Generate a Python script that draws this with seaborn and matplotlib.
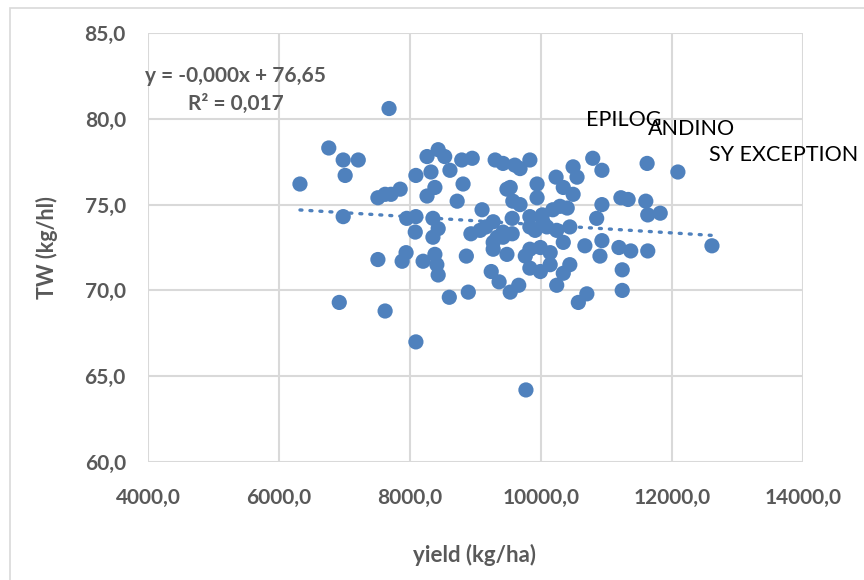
import matplotlib
matplotlib.use("Agg")
import matplotlib.pyplot as plt
from matplotlib.patches import Rectangle
from matplotlib.ticker import FuncFormatter
import seaborn as sns
import pandas as pd

# yield (kg/ha) and test weight (kg/hl)
yield_kg_ha = [
    6320, 6760, 6980, 7210, 7010, 6980, 6920, 7510, 7620, 7710, 7850, 7510,
    7620, 7940, 7880, 7680, 7950, 8090, 8080, 8090, 8090,
    8260, 8430, 8530, 8320, 8610, 8790, 8950, 8380, 8260, 8810, 8720, 8350,
    8430, 8350, 8200, 8380, 8410, 8430, 8600, 8860, 8890, 8930,
    9100, 9160, 9270, 9270, 9330, 9420, 9560, 9560, 9300, 9420, 9600, 9680,
    9830, 9530, 9480, 9570, 9680, 9940, 9940, 9830, 10020, 9830, 9910, 10090,
    10180, 10290, 10400, 9070, 9420, 10030, 10240, 10440, 9270, 9480,
    9760, 9830, 9990, 10140, 10140, 9990, 9830,
    10340, 10440, 10340, 10240, 10570, 9240, 9360, 9530, 9660, 9770,
    10230, 10340, 10490, 10490, 10550,
    10790, 10930, 11620, 12090, 11220, 11330, 11600, 11630, 11820, 10930,
    10850, 10670, 10930, 10900, 11190, 11370, 11630, 12610, 11240, 11240, 10700,
]
tw_kg_hl = [
    76.2, 78.3, 77.6, 77.6, 76.7, 74.3, 69.3, 75.4, 75.6, 75.6, 75.9, 71.8,
    68.8, 72.2, 71.7, 80.6, 74.2, 74.3, 73.4, 67.0, 76.7,
    77.8, 78.2, 77.8, 76.9, 77.0, 77.6, 77.7, 76.0, 75.5, 76.2, 75.2, 74.2,
    73.6, 73.1, 71.7, 72.1, 71.5, 70.9, 69.6, 72.0, 69.9, 73.3,
    74.7, 73.7, 74.0, 72.8, 73.1, 73.4, 74.2, 73.3, 77.6, 77.4, 77.3, 77.1,
    77.6, 76.0, 75.9, 75.2, 75.0, 76.2, 75.4, 74.3, 74.4, 73.7, 73.5, 73.7,
    74.7, 74.9, 74.8, 73.5, 73.1, 74.0, 73.5, 73.7, 72.4, 72.1,
    72.0, 72.4, 72.5, 72.2, 71.5, 71.1, 71.3,
    72.8, 71.5, 71.0, 70.3, 69.3, 71.1, 70.5, 69.9, 70.3, 64.2,
    76.6, 76.0, 75.6, 77.2, 76.6,
    77.7, 77.0, 77.4, 76.9, 75.4, 75.3, 75.2, 74.4, 74.5, 75.0,
    74.2, 72.6, 72.9, 72.0, 72.5, 72.3, 72.3, 72.6, 71.2, 70.0, 69.8,
]

# variety labels as they sit on the chart
variety_labels = ["EPILOG", "ANDINO", "SY EXCEPTION"]
label_x = [10680, 11640, 12560]
label_y = [79.95, 79.4, 77.9]

df = pd.DataFrame({"yield": yield_kg_ha, "tw": tw_kg_hl})

sns.set_theme(style="white")
plt.rcParams["font.family"] = ["Lato", "DejaVu Sans"]

blue = "#4F81BD"
grey_txt = "#595959"

fig = plt.figure(figsize=(8.64, 5.8), dpi=100)
ax = fig.add_axes([0.1713, 0.2034, 0.7581, 0.7397])

# outer chart border
fig.patches.append(Rectangle((10 / 864, -0.5), 2.0, 1.5 - 8 / 580,
                             transform=fig.transFigure, fill=False,
                             edgecolor="#D9D9D9", linewidth=1.2, zorder=0))

sns.regplot(
    data=df, x="yield", y="tw", ax=ax, ci=None,
    scatter_kws=dict(s=120, color=blue, alpha=1, edgecolors="none", zorder=3),
    line_kws=dict(color=blue, lw=2.4, linestyle=(0, (0.6, 2.4)),
                  dash_capstyle="round", zorder=4),
)

for name, lx, ly in zip(variety_labels, label_x, label_y):
    ax.text(lx, ly, name, fontsize=15.5, color="black", va="center", ha="left",
            clip_on=False, zorder=5)

ax.text(0.134, 0.868, "y = -0,000x + 76,65\nR² = 0,017", transform=ax.transAxes,
        ha="center", va="center", fontsize=15, fontweight="bold",
        color=grey_txt, linespacing=1.5, zorder=5)

ax.set_xlim(4000, 14000)
ax.set_ylim(60, 85)
ax.set_xticks(range(4000, 14001, 2000))
ax.set_yticks(range(60, 86, 5))
comma = FuncFormatter(lambda v, p: f"{v:.1f}".replace(".", ","))
ax.xaxis.set_major_formatter(comma)
ax.yaxis.set_major_formatter(comma)
ax.tick_params(axis="x", length=0, pad=19, labelsize=15, labelcolor=grey_txt)
ax.tick_params(axis="y", length=0, pad=16, labelsize=15, labelcolor=grey_txt)
for lab in ax.get_xticklabels() + ax.get_yticklabels():
    lab.set_fontweight("bold")

ax.grid(True, color="#D9D9D9", lw=1.5)
ax.set_axisbelow(True)
for s in ax.spines.values():
    s.set_visible(False)

ax.set_xlabel("yield (kg/ha)", fontsize=16, fontweight="bold", color=grey_txt)
ax.set_ylabel("TW (kg/hl)", fontsize=15.5, fontweight="bold", color=grey_txt)
ax.xaxis.set_label_coords(0.499, -0.217)
ax.xaxis.label.set_va("center")
ax.yaxis.set_label_coords(-0.154, 0.5)
ax.yaxis.label.set_va("center")

fig.savefig("out.png", dpi=100)
